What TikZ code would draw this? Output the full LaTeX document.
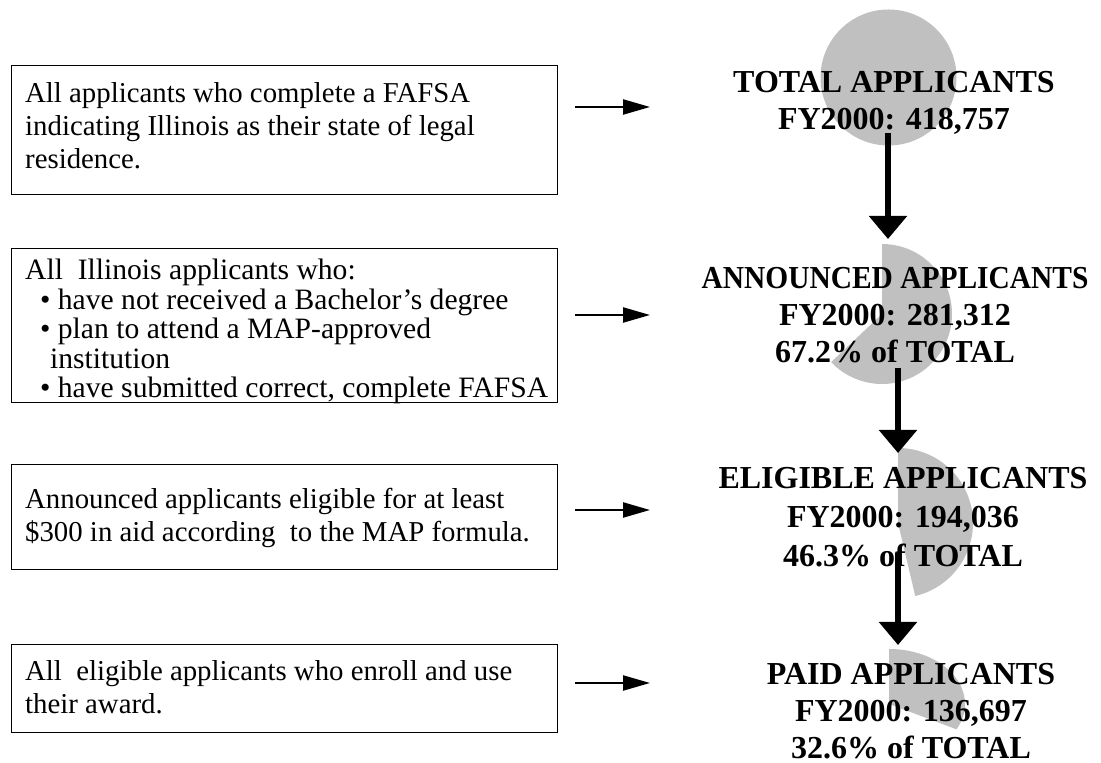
\documentclass[tikz,border=0pt]{standalone}
\usepackage{fontspec}
\setmainfont{Liberation Serif}
\usetikzlibrary{arrows.meta}
\definecolor{piegray}{RGB}{192,192,192}
\begin{document}
\begin{tikzpicture}[x=1pt,y=1pt,
  descbox/.style={draw=black, line width=1.1pt, minimum width=546pt, anchor=north west, inner sep=0pt},
  desctext/.style={anchor=north west, inner sep=0pt, align=left, font=\fontsize{28.8}{33}\selectfont},
  figlabel/.style={anchor=north, inner sep=0pt, align=center, font=\fontsize{32}{37}\selectfont\bfseries},
  harrow/.style={line width=2.3pt, -{Triangle[length=27pt,width=15pt]}},
  varrow/.style={line width=5.5pt, -{Triangle[length=23pt,width=37pt]}},
  piewedge/.style={fill=piegray, draw=none}
]
\useasboundingbox (0,0) rectangle (1101,763);

% pies (behind everything)
\fill[piewedge] (888.5,685.5) circle[radius=68];
\fill[piewedge] (882,449) -- (882,519) arc[start angle=90,end angle=-136.6,radius=70] -- cycle;
\fill[piewedge] (898,240) -- (898,315) arc[start angle=90,end angle=-76.7,radius=75] -- cycle;
\fill[piewedge] (889,59) -- (889,114) arc[start angle=90,end angle=-27.4,x radius=76,y radius=55] -- cycle;

% description boxes
\node[descbox, minimum height=129pt] (b1) at (11,698) {};
\node[descbox, minimum height=154pt] (b2) at (11,515) {};
\node[descbox, minimum height=105pt] (b3) at (11,299) {};
\node[descbox, minimum height=88pt]  (b4) at (11,119) {};

\node[desctext] (t1) at (25,681) {\rule{0pt}{20pt}All applicants who complete a FAFSA\\indicating Illinois as their state of legal\\residence.};
\node[desctext, font=\fontsize{29.6}{29.5}\selectfont] (t2) at (25,504) {\rule{0pt}{20pt}All\ \ Illinois applicants who:\\
\hspace*{15pt}\textbullet\ have not received a Bachelor’s degree\\
\hspace*{15pt}\textbullet\ plan to attend a MAP-approved\\
\hspace*{25pt}institution\\
\hspace*{15pt}\textbullet\ have submitted correct, complete FAFSA};
\node[desctext] (t3) at (25,275) {\rule{0pt}{20pt}Announced applicants eligible for at least\\\$300 in aid according\ \ to the MAP formula.};
\node[desctext] (t4) at (25,103) {\rule{0pt}{20pt}All\ \ eligible applicants who enroll and use\\their award.};

% right-hand labels
\node[figlabel] (l1) at (894,694) {\rule{0pt}{23pt}TOTAL APPLICANTS\\FY2000: 418,757};
\node[figlabel] (l2) at (895,498) {\rule{0pt}{23pt}\scalebox{0.92}[1]{ANNOUNCED APPLICANTS}\\FY2000: 281,312\\67.2\% of TOTAL};
\node[figlabel, font=\fontsize{32}{39}\selectfont\bfseries] (l3) at (903,298) {\rule{0pt}{23pt}ELIGIBLE APPLICANTS\\FY2000: 194,036\\46.3\% of TOTAL};
\node[figlabel] (l4) at (911,102) {\rule{0pt}{23pt}PAID APPLICANTS\\FY2000: 136,697\\32.6\% of TOTAL};

% horizontal arrows
\coordinate (h1s) at (575,656); \coordinate (h1e) at (650,656);
\coordinate (h2s) at (575,448); \coordinate (h2e) at (650,448);
\coordinate (h3s) at (575,253); \coordinate (h3e) at (650,253);
\coordinate (h4s) at (575,80);  \coordinate (h4e) at (650,80);
\draw[harrow] (h1s) -- (h1e);
\draw[harrow] (h2s) -- (h2e);
\draw[harrow] (h3s) -- (h3e);
\draw[harrow] (h4s) -- (h4e);

% vertical arrows
\coordinate (v1s) at (888,630); \coordinate (v1e) at (888,524);
\coordinate (v2s) at (898,395); \coordinate (v2e) at (898,310);
\coordinate (v3s) at (898,210); \coordinate (v3e) at (898,118);
\draw[varrow] (v1s) -- (v1e);
\draw[varrow] (v2s) -- (v2e);
\draw[varrow] (v3s) -- (v3e);
\end{tikzpicture}
\end{document}
